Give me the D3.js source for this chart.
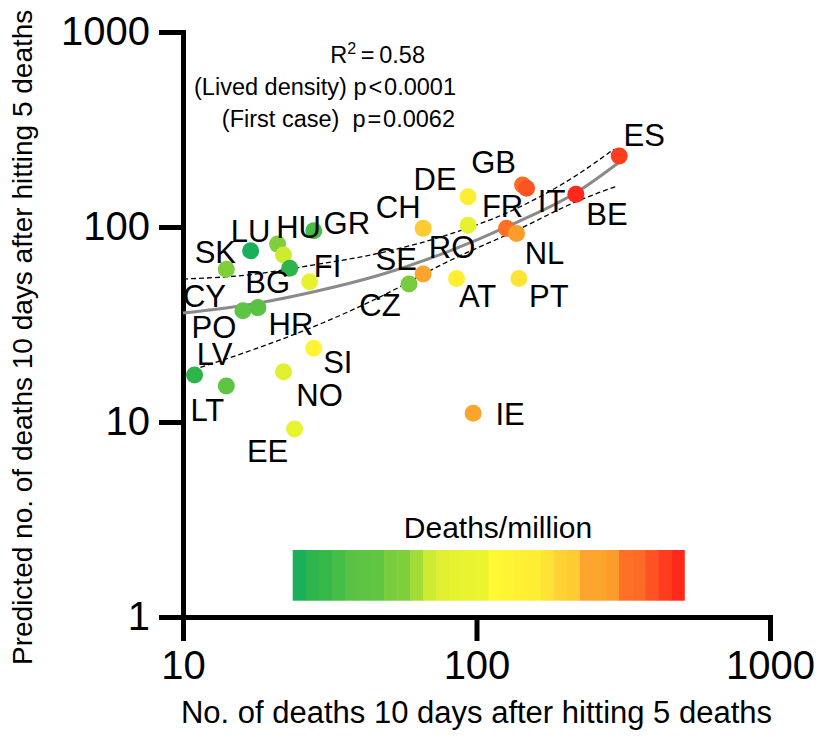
<!DOCTYPE html>
<html>
<head>
<meta charset="utf-8">
<script src="https://cdn.jsdelivr.net/npm/d3@7"></script>
<style>
  html, body { margin: 0; padding: 0; background: #fff; }
  svg text { font-family: "Liberation Sans", Arial, Helvetica, sans-serif; fill: #000; }
</style>
</head>
<body>
<div id="grafico"></div>
<script>
// --- data ---
const countries = ["ES","GB","IT","BE","FR","NL","DE","CH","RO","SE","CZ","AT","PT","IE",
                   "GR","HU","CY","BG","LU","SK","FI","PO","HR","LV","LT","SI","NO","EE"];
// no. of deaths 10 days after hitting 5 deaths
const observed = [306.4, 143.5, 148.1, 218.1, 126.6, 136.9, 93.6, 65.8, 93.6, 65.8, 58.9, 85.5, 139.4, 97.4,
                  27.9, 21.0, 22.0, 23.1, 17.0, 14.05, 27.0, 16.0, 18.0, 10.95, 14.05, 27.9, 22.0, 24.0];
// predicted no. of deaths
const predicted = [231, 164, 158, 147, 98.4, 92.7, 143, 98.4, 102, 57.4, 51.0, 54.5, 54.5, 11.1,
                   95.6, 81.7, 71.8, 61.4, 75.5, 60.7, 52.4, 37.2, 38.6, 17.4, 15.3, 23.9, 18.1, 9.2];
// deaths/million bin (index into the colour bar)
const deathBin = [28, 26, 27, 29, 25, 24, 18, 21, 12, 22, 7, 17, 19, 23,
                  3, 8, 10, 1, 0, 8, 12, 5, 4, 1, 5, 16, 11, 13];

// colour bar for deaths/million
const legendColors = ["#1aaf5a","#2db54c","#34b84a","#45bd47","#59c244","#5ec443","#62c542","#78cc3e",
                      "#80ce3c","#a2dc36","#cdeb31","#e0f030","#e6f230","#e9f430","#eaf52f","#fefa31",
                      "#fef434","#feef33","#feee33","#fde335","#fdd333","#fecb33","#fca42d","#fca52c",
                      "#fd9c2b","#fd7026","#fe6b24","#fd5322","#fe3c1e","#fe281b"];

// regression fit and confidence band
const fitX   = [10, 16.5, 27.7, 46.8, 79.2, 133, 225, 303];
const fitY   = [36.2, 39.8, 46.4, 56.7, 74.4, 103.5, 154.5, 212.5];
const upperX = [10, 16.5, 27.7, 46.8, 79.2, 133, 225, 294];
const upperY = [54.1, 56.7, 63.8, 73.5, 90.9, 122, 189, 251];
const lowerX = [10.8, 16.5, 27.7, 46.8, 79.2, 133, 225, 301];
const lowerY = [18.5, 22.9, 30.7, 43.7, 66.1, 94.2, 137.3, 162];

const xTicks = [10, 100, 1000];
const yTicks = [1, 10, 100, 1000];

const statLines = ["\u2009=\u20090.58", "(Lived density) p\u200a<\u200a0.0001", "(First case)  p\u200a=\u200a0.0062"];

// label placement relative to each point (layout only)
const labelOffsets = {
  ES:[25,-21], GB:[-29,-23], IT:[25,13], BE:[31,19], FR:[-4,-23], NL:[28,19], DE:[-33,-18],
  CH:[-25,-22], RO:[-16,22], SE:[-27,-15], CZ:[-29,21], AT:[21,17], PT:[30,17], IE:[37,1],
  GR:[33,-8], HU:[21,-17], CY:[-79,41], BG:[-22,14], LU:[0,-20], SK:[-11,-17], FI:[18,-16],
  PO:[-29,16], HR:[33,16], LV:[20,-21], LT:[-19,24], SI:[24,14], NO:[36,23], EE:[-27,22]
};

// --- layout ---
const margin = {top: 32, right: 50, bottom: 128, left: 183};
const width = 820 - margin.left - margin.right;
const height = 745 - margin.top - margin.bottom;

const svg = d3.select("#grafico")
  .append("svg")
    .attr("width", 820)
    .attr("height", 745);

const g = svg.append("g")
    .attr("transform", `translate(${margin.left},${margin.top})`);

const x = d3.scaleLog().domain([10, 1000]).range([0, width]);
const y = d3.scaleLog().domain([1, 1000]).range([height, 0]);
const colore = d3.scaleOrdinal().domain(d3.range(legendColors.length)).range(legendColors);

// --- axes ---
const asseX = g.append("g")
    .attr("transform", `translate(0,${height})`)
    .call(d3.axisBottom(x).tickValues(xTicks).tickFormat(d3.format("d"))
      .tickSize(24).tickSizeOuter(0).tickPadding(10));

const asseY = g.append("g")
    .call(d3.axisLeft(y).tickValues(yTicks).tickFormat(d3.format("d"))
      .tickSize(24).tickSizeOuter(0).tickPadding(9));

[asseX, asseY].forEach(a => {
  a.select(".domain").attr("stroke", "#000").attr("stroke-width", 5).attr("stroke-linecap", "square");
  a.selectAll(".tick line").attr("stroke", "#000").attr("stroke-width", 5);
  a.selectAll(".tick text").style("font-size", "40px").attr("fill", "#000");
});

// axis titles
svg.append("text")
    .attr("x", margin.left + width / 2)
    .attr("y", 723)
    .attr("text-anchor", "middle")
    .style("font-size", "31px")
    .text("No. of deaths 10 days after hitting 5 deaths");

svg.append("text")
    .attr("transform", "translate(32,665) rotate(-90)")
    .attr("text-anchor", "start")
    .style("font-size", "28px")
    .text("Predicted no. of deaths 10 days after hitting 5 deaths");

// --- fit and confidence band ---
const linea = d3.line()
    .x(d => x(d[0]))
    .y(d => y(d[1]))
    .curve(d3.curveMonotoneX);

g.append("path")
    .datum(d3.zip(upperX, upperY))
    .attr("d", linea)
    .attr("fill", "none")
    .attr("stroke", "#000")
    .attr("stroke-width", 1.3)
    .attr("stroke-dasharray", "5,3");

g.append("path")
    .datum(d3.zip(lowerX, lowerY))
    .attr("d", linea)
    .attr("fill", "none")
    .attr("stroke", "#000")
    .attr("stroke-width", 1.3)
    .attr("stroke-dasharray", "5,3");

g.append("path")
    .datum(d3.zip(fitX, fitY))
    .attr("d", linea)
    .attr("fill", "none")
    .attr("stroke", "#8a8a8a")
    .attr("stroke-width", 3);

// --- points and labels ---
const punti = countries.map((c, i) => ({
  paese: c, osservati: observed[i], previsti: predicted[i], bin: deathBin[i]
}));

g.selectAll("circle.punto")
  .data(punti)
  .join("circle")
    .attr("class", "punto")
    .attr("cx", d => x(d.osservati))
    .attr("cy", d => y(d.previsti))
    .attr("r", 8.5)
    .style("fill", d => colore(d.bin));

g.selectAll("text.etichetta")
  .data(punti)
  .join("text")
    .attr("class", "etichetta")
    .attr("x", d => x(d.osservati) + labelOffsets[d.paese][0])
    .attr("y", d => y(d.previsti) + labelOffsets[d.paese][1])
    .attr("dy", "0.36em")
    .attr("text-anchor", "middle")
    .style("font-size", "31px")
    .text(d => d.paese);

// --- statistics text ---
const stat1 = svg.append("text")
    .attr("x", 425).attr("y", 63)
    .attr("text-anchor", "end")
    .style("font-size", "23.5px");
stat1.append("tspan").text("R");
stat1.append("tspan").attr("dy", -9).style("font-size", "16px").text("2");
stat1.append("tspan").attr("dy", 9).text(statLines[0]);

svg.append("text")
    .attr("x", 456).attr("y", 95)
    .attr("text-anchor", "end")
    .style("font-size", "23.5px")
    .text(statLines[1]);

svg.append("text")
    .attr("x", 455).attr("y", 127)
    .attr("text-anchor", "end")
    .style("font-size", "23.5px")
    .style("white-space", "pre")
    .text(statLines[2]);

// --- colour bar legend ---
const legX = d3.scaleBand().domain(d3.range(legendColors.length)).range([292.7, 684.3]);

svg.append("g")
  .selectAll("rect")
  .data(legendColors)
  .join("rect")
    .attr("x", (d, i) => legX(i))
    .attr("y", 550)
    .attr("width", legX.bandwidth() + 0.5)
    .attr("height", 50.7)
    .attr("fill", d => d);

svg.append("text")
    .attr("x", 498)
    .attr("y", 538)
    .attr("text-anchor", "middle")
    .style("font-size", "30px")
    .text("Deaths/million");
</script>
</body>
</html>
